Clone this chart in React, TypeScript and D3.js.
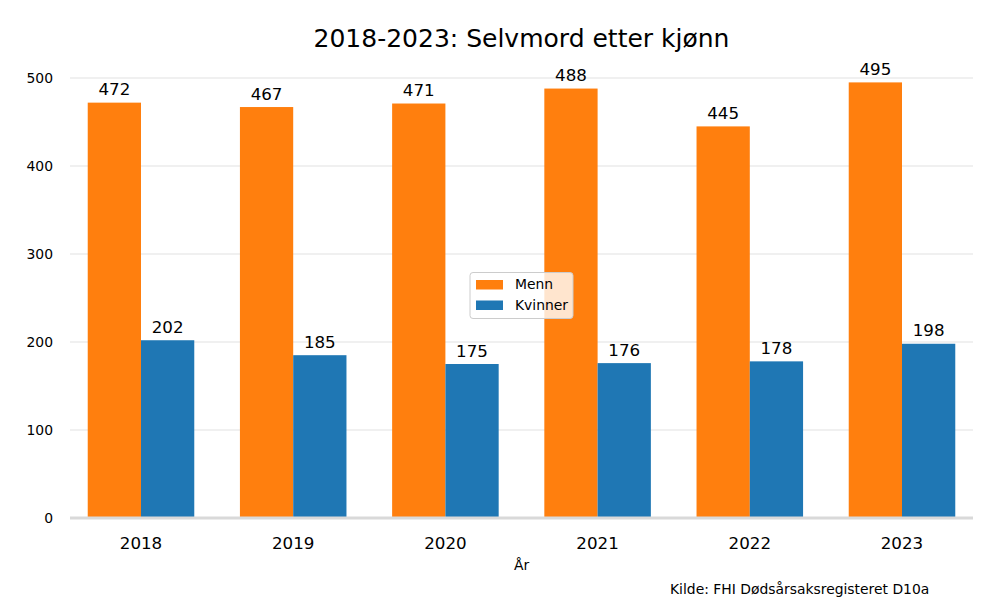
import React from "react";
import * as d3 from "d3";

const years = ["2018", "2019", "2020", "2021", "2022", "2023"];
const menn = [472, 467, 471, 488, 445, 495];
const kvinner = [202, 185, 175, 176, 178, 198];
const yTicks = [0, 100, 200, 300, 400, 500];
const seriesNames = ["Menn", "Kvinner"];
const colors = ["#ff7f0e", "#1f77b4"];

export default function App() {
  const W = 1000, H = 600;
  const left = 70, right = 973, top = 78, bottom = 518;
  const x = d3.scaleLinear().domain([-0.4665, years.length - 1 + 0.4665]).range([left, right]);
  const y = d3.scaleLinear().domain([0, 500]).range([bottom, top]);
  const bw = 0.35;
  const bwPx = x(bw) - x(0);
  const font = "DejaVu Sans, sans-serif";
  const series = [menn, kvinner];
  return (
    <svg width={W} height={H} style={{ position: "absolute", left: 0, top: 0, fontFamily: font }}>
      <rect width={W} height={H} fill="#fff" />
      <text x={(left + right) / 2} y={46.5} textAnchor="middle" fontSize={25}>2018-2023: Selvmord etter kjønn</text>
      {yTicks.map((t) => (
        <g key={t}>
          {t !== 0 && <line x1={left} x2={right} y1={y(t)} y2={y(t)} stroke="#ebebeb" strokeWidth={1.5} />}
          <text x={53} y={y(t) + 5} textAnchor="end" fontSize={13.9}>{t}</text>
        </g>
      ))}
      {series.map((vals, si) =>
        vals.map((v, i) => {
          const x0 = si === 0 ? x(i) - bwPx : x(i);
          return (
            <g key={`${si}-${i}`}>
              <rect x={x0} y={y(v)} width={bwPx} height={y(0) - y(v)} fill={colors[si]} />
              <text x={x0 + bwPx / 2} y={y(v) - 7.5} textAnchor="middle" fontSize={16.7}>{v}</text>
            </g>
          );
        })
      )}
      <line x1={left} x2={right} y1={bottom} y2={bottom} stroke="#d9d9d9" strokeWidth={3} />
      {years.map((yr, i) => (
        <text key={yr} x={x(i)} y={549} textAnchor="middle" fontSize={16.7}>{yr}</text>
      ))}
      <text x={(left + right) / 2} y={570} textAnchor="middle" fontSize={13.9}>År</text>
      <text x={670} y={594} fontSize={13.9}>Kilde: FHI Dødsårsaksregisteret D10a</text>
      <g>
        <rect x={470} y={272.5} width={103} height={46} rx={3} fill="#fff" fillOpacity={0.8} stroke="#cccccc" strokeWidth={1} />
        {seriesNames.map((n, i) => (
          <g key={n}>
            <rect x={476} y={280 + i * 20.5} width={27} height={9.5} fill={colors[i]} />
            <text x={515} y={289 + i * 20.5} fontSize={13.9}>{n}</text>
          </g>
        ))}
      </g>
    </svg>
  );
}
